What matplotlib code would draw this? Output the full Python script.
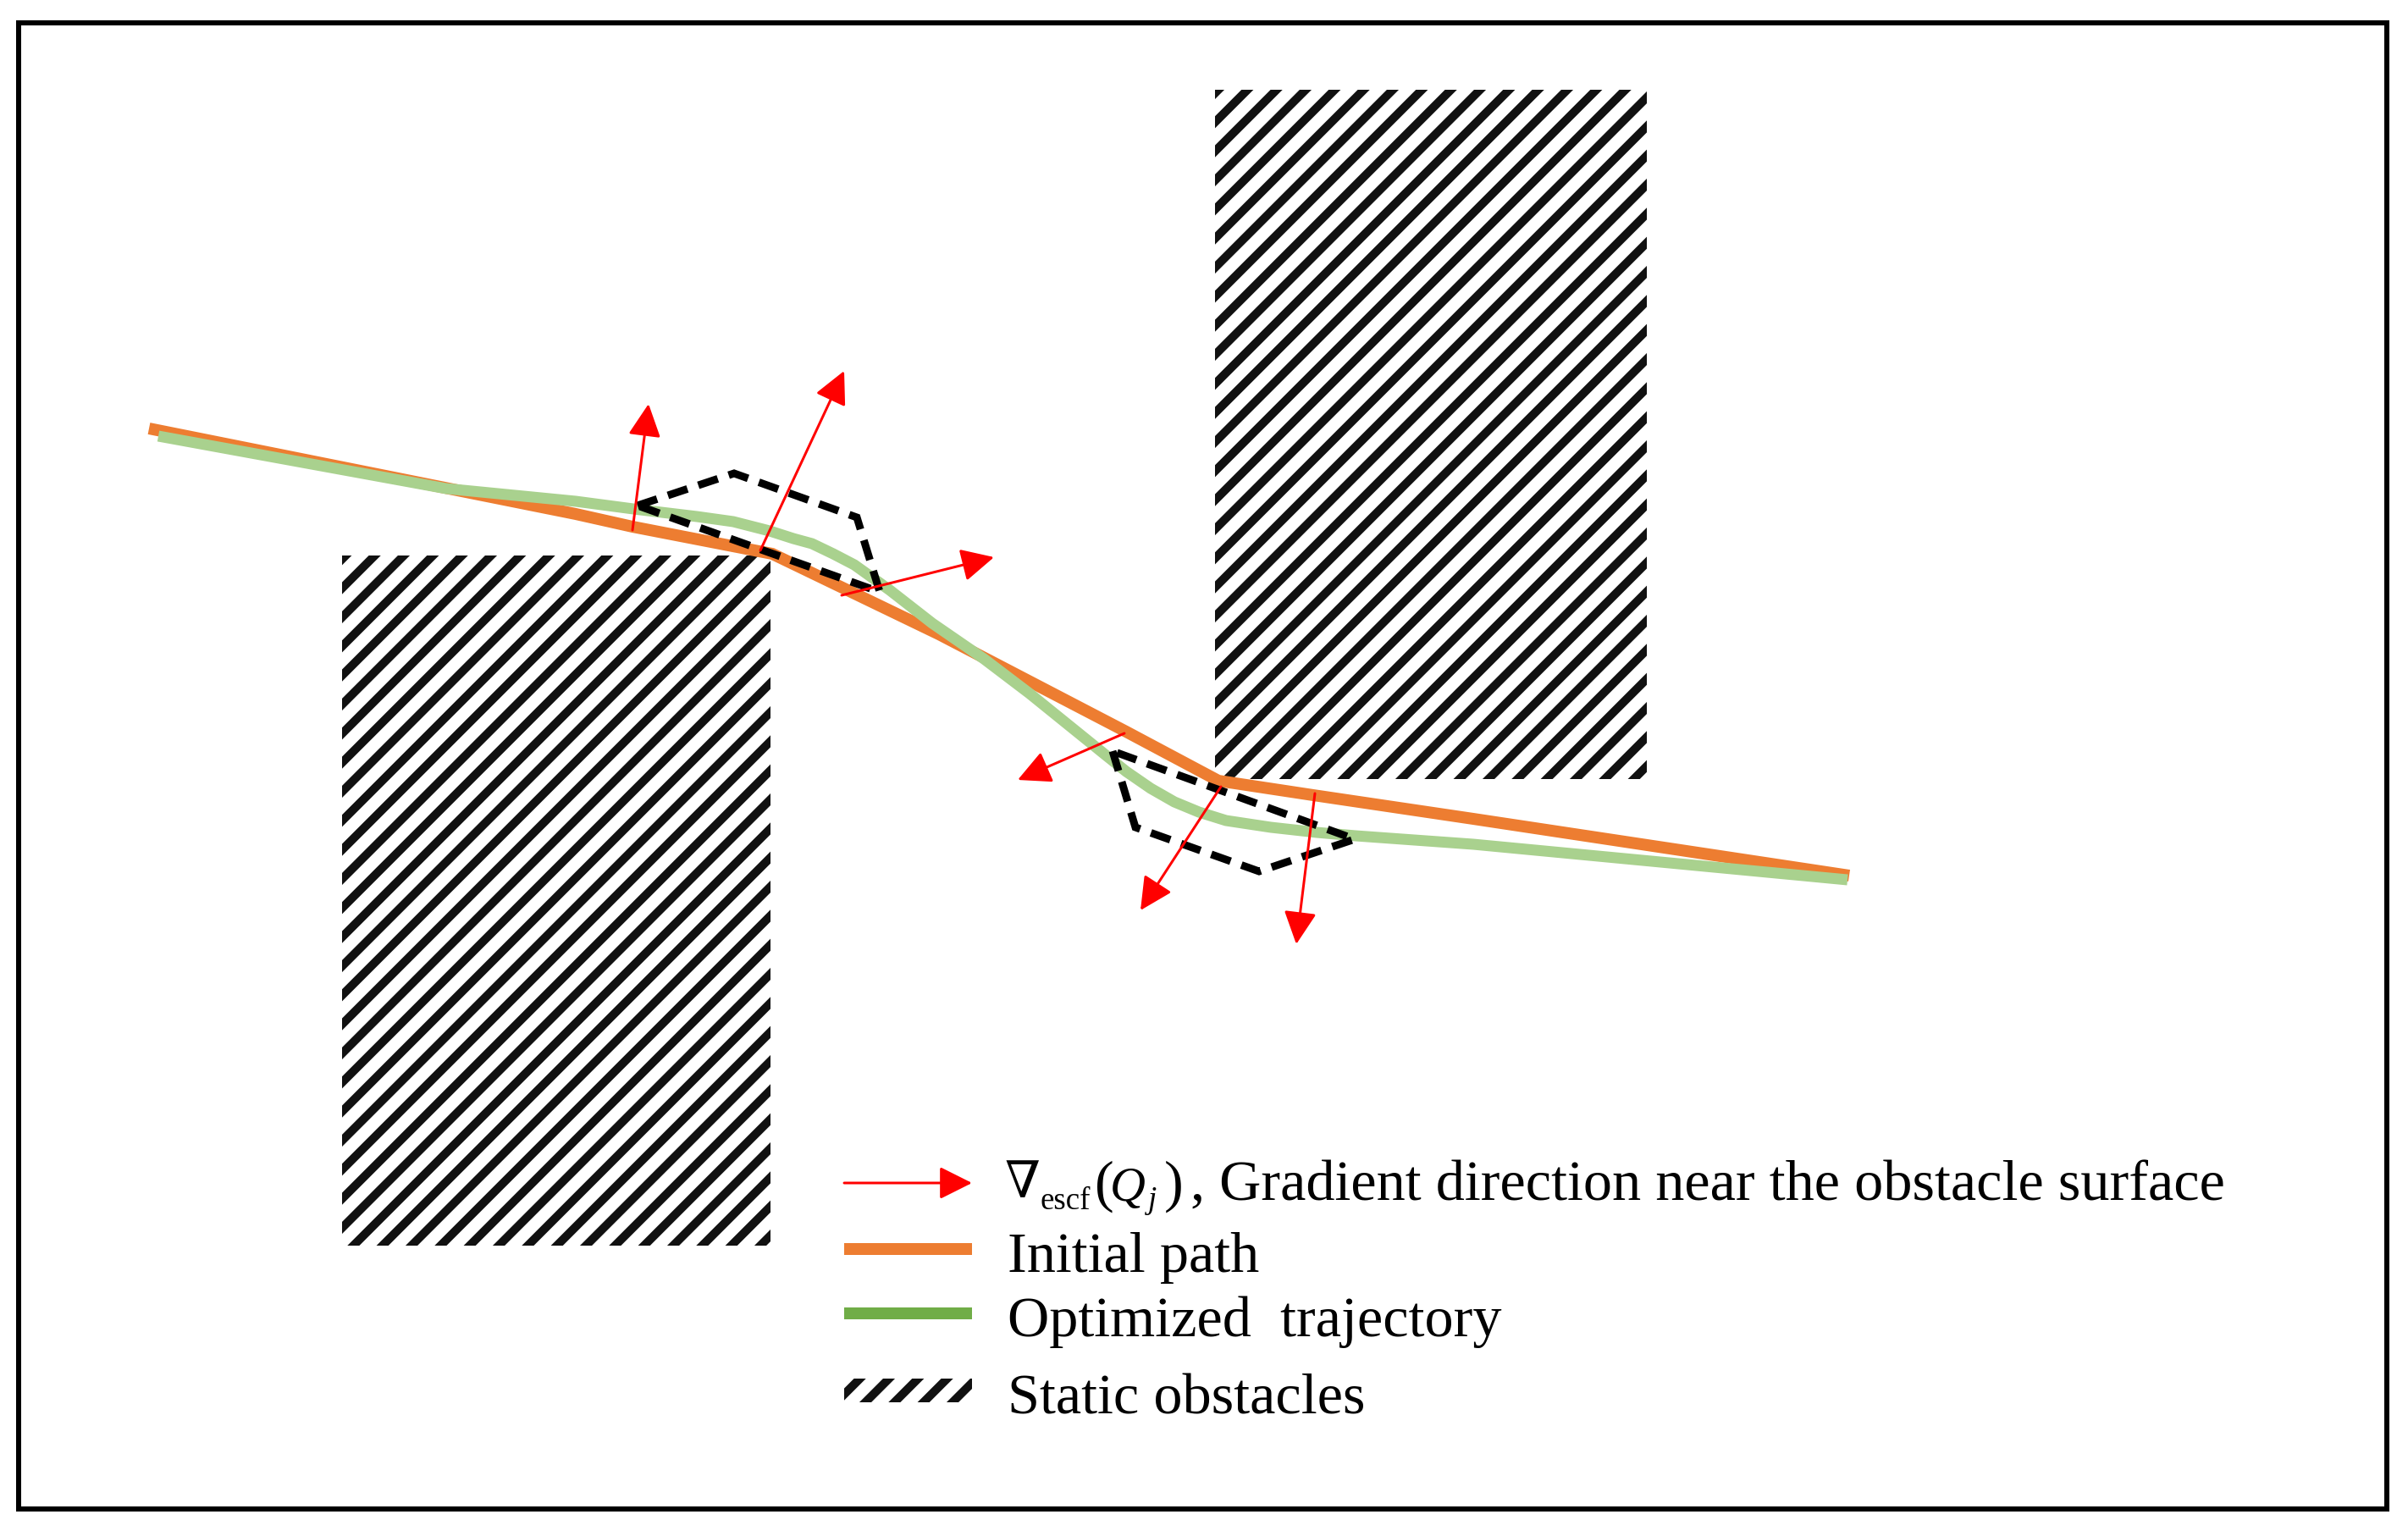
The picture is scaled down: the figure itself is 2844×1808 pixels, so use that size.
import matplotlib

matplotlib.use("Agg")
import matplotlib.pyplot as plt
from matplotlib.patches import FancyArrowPatch, Polygon, Rectangle

# everything below is in reference pixels (y grows downward)
WIDTH, HEIGHT = 2844, 1809
DPI = 206  # hatch tile follows the dpi, 206 gives the 34 px stripe spacing

ORANGE = "#ED7D31"
GREEN_LIGHT = "#A9D18E"
GREEN = "#70AD47"
RED = "#FF0000"
SERIF = ["Liberation Serif", "DejaVu Serif"]

# obstacles: x, y, w, h
obstacle_left = (404, 657, 506, 815)
obstacle_right = (1435, 107, 510, 814)
legend_swatch = (997, 1629, 151, 28)

initial_x = [176, 680, 747, 912, 1109, 1330, 1439, 1551, 1740, 2184]
initial_y = [507, 608, 623, 655, 750, 865, 923, 940, 968, 1035]

optimized_x = [187, 527, 680, 748, 823, 866, 909, 937, 959, 984, 1009, 1030, 1051, 1101, 1162, 1216, 1305,
               1330, 1359, 1387, 1416, 1448, 1501, 1555, 1601, 1740, 2182]
optimized_y = [516, 578, 593, 602, 611, 617, 628, 637, 643, 655, 668, 683, 698, 737, 779, 820, 892,
               912, 932, 948, 960, 970, 978, 984, 988, 998, 1040]

hull_upper = [(753, 598), (867, 560), (1012, 612), (1039, 700)]
hull_lower = [(1314, 888), (1341, 978), (1487, 1030), (1600, 992)]

gradient_tails = [(747, 627), (898, 651), (994, 704), (1328, 867), (1442, 930), (1553, 938)]
gradient_tips = [(766, 478), (997, 439), (1174, 659), (1202, 922), (1347, 1076), (1531, 1116)]

legend_labels = ["Initial path", "Optimized  trajectory", "Static obstacles"]
legend_baselines = [1502, 1578, 1670]
gradient_label = ", Gradient direction near the obstacle surface"


def px(n):
    return n * 72 / DPI


def draw_arrow(ax, start, end):
    style = f"-|>,head_length={px(33):.2f},head_width={px(16.5):.2f}"
    ax.add_patch(FancyArrowPatch(start, end, arrowstyle=style, mutation_scale=1, color=RED,
                                 lw=px(3), shrinkA=0, shrinkB=0, zorder=6))


plt.rcParams["hatch.linewidth"] = px(10)
plt.rcParams["font.family"] = SERIF

fig = plt.figure(figsize=(WIDTH / DPI, HEIGHT / DPI), dpi=DPI)
ax = fig.add_axes([0, 0, 1, 1])
ax.set_xlim(0, WIDTH)
ax.set_ylim(HEIGHT, 0)
ax.axis("off")

ax.add_patch(Rectangle((22, 28), 2796.5, 1755.5, fill=False, ec="black", lw=px(6)))

for x, y, w, h in (obstacle_left, obstacle_right, legend_swatch):
    ax.add_patch(Rectangle((x, y), w, h, fc="white", ec="#111111", lw=0, hatch="//", zorder=1))

ax.plot(initial_x, initial_y, color=ORANGE, lw=px(14), solid_joinstyle="miter", solid_capstyle="butt", zorder=2)
ax.plot(optimized_x, optimized_y, color=GREEN_LIGHT, lw=px(13), solid_joinstyle="round", solid_capstyle="butt", zorder=3)

for hull in (hull_upper, hull_lower):
    ax.add_patch(Polygon(hull, closed=True, fill=False, ec="black", lw=px(9),
                         linestyle=(0, (2.7, 1.5)), joinstyle="miter", zorder=5))

for tail, tip in zip(gradient_tails, gradient_tips):
    draw_arrow(ax, tail, tip)

# legend keys
draw_arrow(ax, (997, 1398), (1148, 1398))
ax.plot([997, 1148], [1476, 1476], color=ORANGE, lw=px(14), solid_capstyle="butt")
ax.plot([997, 1148], [1552, 1552], color=GREEN, lw=px(14), solid_capstyle="butt")

# legend text: the gradient symbol is put together from separate pieces
size = px(68.3)
ax.text(1186, 1414, "\u2207", fontsize=px(60), va="baseline")
ax.text(1229, 1428, "escf", fontsize=px(37), va="baseline")
ax.text(1293, 1418, "(", fontsize=size, va="baseline")
ax.text(1311, 1418, "Q", fontsize=px(58), va="baseline", style="italic")
ax.text(1356, 1427, "j", fontsize=px(37), va="baseline", style="italic")
ax.text(1375, 1418, ")", fontsize=size, va="baseline")
ax.text(1406, 1418, gradient_label, fontsize=size, va="baseline")

for label, baseline in zip(legend_labels, legend_baselines):
    ax.text(1190, baseline, label, fontsize=size, va="baseline")

fig.savefig("out.png", dpi=DPI, facecolor="white")
plt.close(fig)
